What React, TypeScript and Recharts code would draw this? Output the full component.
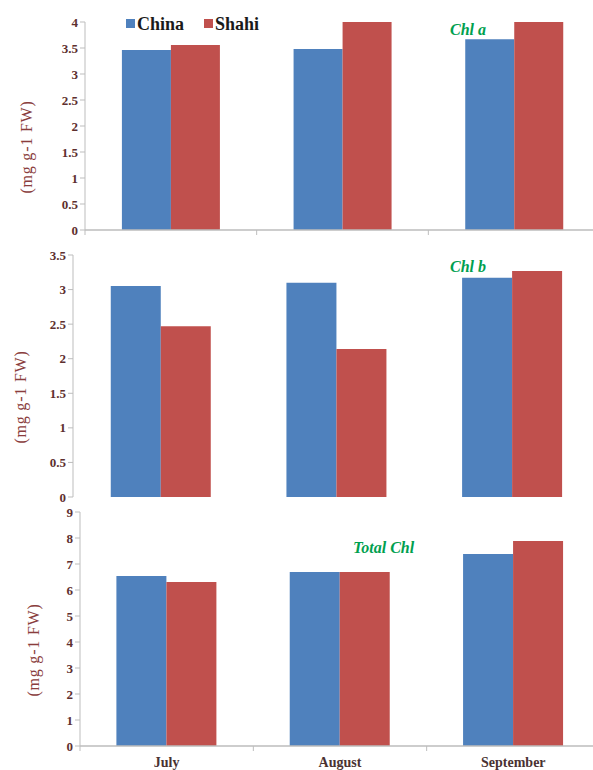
import { BarChart, Bar, XAxis, YAxis } from 'recharts';

const MONTHS = ['July', 'August', 'September'];
const CHLA_CHINA = [3.46, 3.48, 3.67];
const CHLA_SHAHI = [3.56, 4.55, 4.6];
const CHLB_CHINA = [3.05, 3.1, 3.17];
const CHLB_SHAHI = [2.47, 2.14, 3.27];
const TOTAL_CHINA = [6.54, 6.69, 7.38];
const TOTAL_SHAHI = [6.31, 6.69, 7.88];

const TICKS_A = [0, 0.5, 1, 1.5, 2, 2.5, 3, 3.5, 4];
const TICKS_B = [0, 0.5, 1, 1.5, 2, 2.5, 3, 3.5];
const TICKS_T = [0, 1, 2, 3, 4, 5, 6, 7, 8, 9];
const X_TICKS = [0, 0.5, 1, 1.5, 2, 2.5, 3];

const BLUE = '#4F81BD';
const RED = '#C0504D';
const SERIF = '"Times New Roman", "Liberation Serif", "Noto Serif", "DejaVu Serif", serif';
const TICK_STYLE = { fontFamily: SERIF, fontWeight: 700, fontSize: 13, fill: '#5e2f2f' };
const AXIS_GRAY = '#bdbdbd';

// slot = middle of each month's band on the 0..3 boundary axis
const build = (china: number[], shahi: number[]) =>
    MONTHS.map((m, i) => ({ month: m, slot: i + 0.5, China: china[i], Shahi: shahi[i] }));

function yLabel(offsetX: number) {
    return (props: any) => {
        const vb = props.viewBox;
        const cx = vb.x + offsetX;
        const cy = vb.y + vb.height / 2 + 21;
        return (
            <text
                x={cx}
                y={cy}
                transform={`rotate(-90 ${cx} ${cy})`}
                textAnchor="middle"
                fill="#8a3d3d"
                style={{ fontFamily: SERIF, fontSize: 16, letterSpacing: 0.8 }}
            >
                (mg g-1 FW)
            </text>
        );
    };
}

// boundary tick marks on whole numbers, month names on the halves
function monthTick(showNames: boolean) {
    return (props: any) => {
        const { x, y, payload } = props;
        const v = payload.value;
        if (Number.isInteger(v)) {
            return <line x1={x} y1={y - 8} x2={x} y2={y - 3} stroke={AXIS_GRAY} />;
        }
        if (!showNames) return <g />;
        return (
            <text
                x={x}
                y={y + 13}
                textAnchor="middle"
                fontFamily={SERIF}
                fontSize={14}
                fontWeight={600}
                fill="#4a3232"
            >
                {MONTHS[Math.floor(v)]}
            </text>
        );
    };
}

function Tag({ text, left, top }: { text: string; left: number; top: number }) {
    return (
        <div
            style={{
                position: 'absolute',
                left,
                top,
                color: '#00a04f',
                fontFamily: SERIF,
                fontWeight: 700,
                fontStyle: 'italic',
                fontSize: 16,
                lineHeight: '16px',
            }}
        >
            {text}
        </div>
    );
}

function LegendBox() {
    const item = (label: string, color: string) => (
        <span style={{ display: 'inline-flex', alignItems: 'center', marginRight: 20 }}>
            <span style={{ width: 9, height: 9, background: color, marginRight: 2 }} />
            {label}
        </span>
    );
    return (
        <div
            style={{
                position: 'absolute',
                left: 122,
                top: 12,
                padding: '0 4px',
                background: '#fff',
                color: '#1a1a1a',
                fontFamily: SERIF,
                fontWeight: 700,
                fontSize: 18,
                lineHeight: '20px',
                whiteSpace: 'nowrap',
            }}
        >
            {item('China', BLUE)}
            {item('Shahi', RED)}
        </div>
    );
}

function GridAxis({ names }: { names: boolean }) {
    return (
        <XAxis
            xAxisId="grid"
            dataKey="slot"
            type="number"
            domain={[0, 3]}
            allowDataOverflow
            ticks={X_TICKS}
            tickLine={false}
            tick={monthTick(names)}
            height={names ? 29 : 10}
            axisLine={{ stroke: AXIS_GRAY, strokeWidth: 1.5 }}
            interval={0}
        />
    );
}

export default function App() {
    return (
        <div
            style={{
                position: 'absolute',
                left: 0,
                top: 0,
                width: 593,
                height: 770,
                overflow: 'hidden',
                background: '#fff',
            }}
        >
            {/* Chl a */}
            <div style={{ position: 'absolute', left: 0, top: 0 }}>
                <BarChart
                    width={600}
                    height={240}
                    data={build(CHLA_CHINA, CHLA_SHAHI)}
                    margin={{ top: 22, right: 0, left: 0, bottom: 0 }}
                    barCategoryGap="21.5%"
                    barGap={0}
                >
                    {GridAxis({ names: false })}
                    <XAxis xAxisId="cat" dataKey="month" hide height={0} />
                    <YAxis
                        width={85}
                        domain={[0, 4]}
                        ticks={TICKS_A}
                        interval={0}
                        allowDataOverflow
                        tick={TICK_STYLE}
                        tickSize={5}
                        stroke={AXIS_GRAY}
                        label={{ content: yLabel(32) }}
                    />
                    <Bar xAxisId="cat" dataKey="China" fill={BLUE} isAnimationActive={false} />
                    <Bar xAxisId="cat" dataKey="Shahi" fill={RED} isAnimationActive={false} />
                </BarChart>
            </div>
            <LegendBox />
            <Tag text="Chl a" left={450} top={22} />

            {/* Chl b */}
            <div style={{ position: 'absolute', left: 0, top: 240 }}>
                <BarChart
                    width={600}
                    height={272}
                    data={build(CHLB_CHINA, CHLB_SHAHI)}
                    margin={{ top: 15, right: 0, left: 0, bottom: 15 }}
                    barCategoryGap="21.5%"
                    barGap={0}
                >
                    <XAxis dataKey="month" hide height={0} />
                    <YAxis
                        width={73}
                        domain={[0, 3.5]}
                        ticks={TICKS_B}
                        interval={0}
                        tick={TICK_STYLE}
                        tickSize={5}
                        stroke={AXIS_GRAY}
                        label={{ content: yLabel(26) }}
                    />
                    <Bar dataKey="China" fill={BLUE} isAnimationActive={false} />
                    <Bar dataKey="Shahi" fill={RED} isAnimationActive={false} />
                </BarChart>
            </div>
            <Tag text="Chl b" left={450} top={259} />

            {/* Total Chl */}
            <div style={{ position: 'absolute', left: 0, top: 500 }}>
                <BarChart
                    width={600}
                    height={275}
                    data={build(TOTAL_CHINA, TOTAL_SHAHI)}
                    margin={{ top: 12, right: 0, left: 0, bottom: 0 }}
                    barCategoryGap="21%"
                    barGap={0}
                >
                    {GridAxis({ names: true })}
                    <XAxis xAxisId="cat" dataKey="month" hide height={0} />
                    <YAxis
                        width={80}
                        domain={[0, 9]}
                        ticks={TICKS_T}
                        interval={0}
                        tick={TICK_STYLE}
                        tickSize={5}
                        stroke={AXIS_GRAY}
                        label={{ content: yLabel(39) }}
                    />
                    <Bar xAxisId="cat" dataKey="China" fill={BLUE} isAnimationActive={false} />
                    <Bar xAxisId="cat" dataKey="Shahi" fill={RED} isAnimationActive={false} />
                </BarChart>
            </div>
            <Tag text="Total Chl" left={353} top={540} />
        </div>
    );
}
